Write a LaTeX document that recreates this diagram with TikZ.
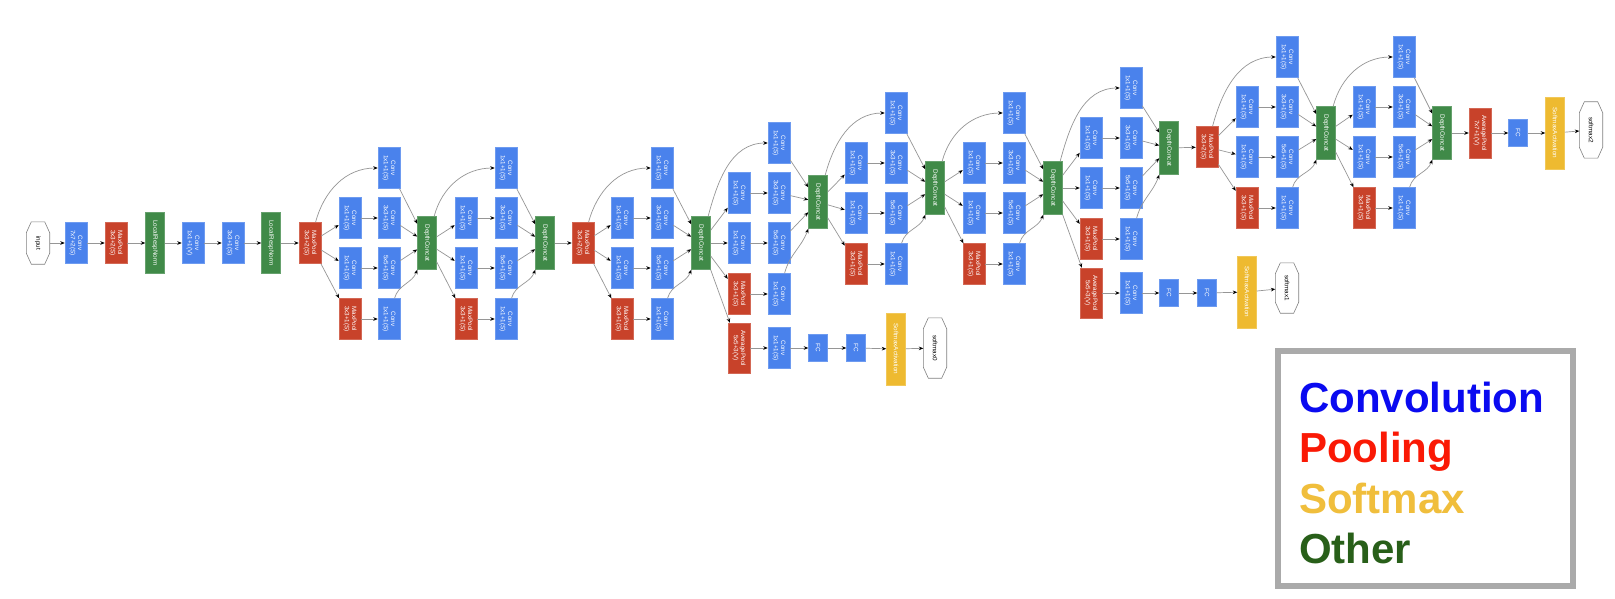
\documentclass[tikz,border=0pt]{standalone}
\usepackage{fontspec}
\setmainfont{Liberation Sans}
\usepackage{graphicx}
\usetikzlibrary{arrows.meta,calc}
\definecolor{convblue}{RGB}{74,130,236}
\definecolor{poolred}{RGB}{200,66,42}
\definecolor{catgreen}{RGB}{64,138,72}
\definecolor{softyel}{RGB}{238,186,48}
\definecolor{edgegray}{RGB}{150,150,150}
\definecolor{legblue}{RGB}{10,10,240}
\definecolor{legred}{RGB}{250,25,5}
\definecolor{legyel}{RGB}{240,190,60}
\definecolor{leggreen}{RGB}{40,95,25}
\definecolor{leggray}{RGB}{170,170,170}
\newcommand\nfont{\fontsize{6.3}{7.2}\selectfont}
\newcommand\lab[2]{\rotatebox{-90}{\begin{tabular}{@{}c@{}}#1\\#2\end{tabular}}}
\newcommand\labo[1]{\rotatebox{-90}{#1}}
\newcommand\octo[1]{\draw[octline] ($(#1.north west)+(5,0)$) -- ($(#1.north east)+(-5,0)$) -- ($(#1.north east)+(0,-11)$) -- ($(#1.south east)+(0,11)$) -- ($(#1.south east)+(-5,0)$) -- ($(#1.south west)+(5,0)$) -- ($(#1.south west)+(0,11)$) -- ($(#1.north west)+(0,-11)$) -- cycle;}
% #1 prefix, #2 input node, #3 x col1, #4 x col2, #5 x concat, #6 y top, #7 y concat
\newcommand\incep[7]{%
 \node[conv] (#1t) at (#4,-#6) {\lab{Conv}{1x1+1(S)}};
 \node[conv] (#1a) at (#3,-#6-50) {\lab{Conv}{1x1+1(S)}};
 \node[conv] (#1b) at (#3,-#6-100) {\lab{Conv}{1x1+1(S)}};
 \node[pool] (#1p) at (#3,-#6-151) {\lab{MaxPool}{3x3+1(S)}};
 \node[conv] (#1c) at (#4,-#6-50) {\lab{Conv}{3x3+1(S)}};
 \node[conv] (#1d) at (#4,-#6-100) {\lab{Conv}{5x5+1(S)}};
 \node[conv] (#1e) at (#4,-#6-151) {\lab{Conv}{1x1+1(S)}};
 \node[concat] (#1x) at (#5,-#7) {\labo{DepthConcat}};
 \draw[conn] (#2) to[out=75,in=180] (#1t);
 \draw[conn] (#2) -- (#1a);
 \draw[conn] (#2) -- (#1b);
 \draw[conn] (#2) -- (#1p);
 \draw[conn] (#1a) -- (#1c);
 \draw[conn] (#1b) -- (#1d);
 \draw[conn] (#1p) -- (#1e);
 \draw[conn] (#1t) -- (#1x);
 \draw[conn] (#1c) -- (#1x);
 \draw[conn] (#1d) -- (#1x);
 \draw[conn] (#1e) to[out=75,in=-110] (#1x);
}
\begin{document}
\begin{tikzpicture}[x=1pt,y=1pt,
 box/.style={rectangle, inner sep=0pt, text=white, font=\nfont, line width=0.5pt},
 conv/.style={box, fill=convblue, draw=convblue!80!white, minimum width=22pt, minimum height=41pt},
 pool/.style={box, fill=poolred, draw=poolred!80!white, minimum width=22pt, minimum height=41pt},
 apool/.style={pool, minimum height=50pt},
 concat/.style={box, fill=catgreen, draw=catgreen!80!white, minimum width=19pt, minimum height=53pt},
 lrn/.style={concat, minimum height=61pt},
 fcbox/.style={box, fill=convblue, draw=convblue!80!white, minimum width=19pt, minimum height=27pt},
 soft/.style={box, fill=softyel, draw=softyel!80!white, minimum width=19pt, minimum height=72pt},
 octo/.style={rectangle, inner sep=0pt, minimum width=23pt, minimum height=56pt, font=\nfont, text=black},
 octline/.style={draw=gray, line width=0.6pt},
 conn/.style={draw=edgegray, line width=0.7pt, -{Stealth[length=4.5pt,width=3.6pt,color=black]}},
 legtext/.style={anchor=base west, font=\fontsize{42}{50}\selectfont\bfseries, inner sep=0pt}
]
\fill[white] (0,0) rectangle (1615,-599);
\useasboundingbox (0,0) rectangle (1615,-599);
% stem
\node[octo, minimum height=42pt] (input) at (38,-243) {\labo{input}};
\octo{input}
\node[conv] (c1) at (76,-243) {\lab{Conv}{7x7+2(S)}};
\node[pool] (p1) at (116,-243) {\lab{MaxPool}{3x3+2(S)}};
\node[lrn] (n1) at (155,-243) {\labo{LocalRespNorm}};
\node[conv] (c2) at (193,-243) {\lab{Conv}{1x1+1(V)}};
\node[conv] (c3) at (233,-243) {\lab{Conv}{3x3+1(S)}};
\node[lrn] (n2) at (271,-243) {\labo{LocalRespNorm}};
\node[pool] (p2) at (310,-243) {\lab{MaxPool}{3x3+2(S)}};
\draw[conn] (input) -- (c1);
\draw[conn] (c1) -- (p1);
\draw[conn] (p1) -- (n1);
\draw[conn] (n1) -- (c2);
\draw[conn] (c2) -- (c3);
\draw[conn] (c3) -- (n2);
\draw[conn] (n2) -- (p2);
% inception 3
\incep{A}{p2}{350}{389}{427}{168}{243}
\incep{B}{Ax}{466}{506}{545}{168}{243}
\node[pool] (p3) at (583,-243) {\lab{MaxPool}{3x3+2(S)}};
\draw[conn] (Bx) -- (p3);
% inception 4
\incep{C}{p3}{622}{662}{701}{168}{243}
\incep{D}{Cx}{739}{779}{818}{143}{202}
\node[apool] (Davg) at (739,-348) {\lab{AveragePool}{5x5+3(V)}};
\node[conv] (Dconv) at (779,-348) {\lab{Conv}{1x1+1(S)}};
\node[fcbox] (Dfc1) at (818,-348) {\labo{FC}};
\node[fcbox] (Dfc2) at (856,-348) {\labo{FC}};
\node[soft] (Dsm) at (896,-349) {\labo{SoftmaxActivation}};
\node[octo, minimum height=60pt] (sm0) at (935,-348) {\labo{softmax0}};
\octo{sm0}
\draw[conn] (Cx) -- (Davg);
\draw[conn] (Davg) -- (Dconv);
\draw[conn] (Dconv) -- (Dfc1);
\draw[conn] (Dfc1) -- (Dfc2);
\draw[conn] (Dfc2) -- (Dsm);
\draw[conn] (Dsm) -- (sm0);
\incep{E}{Dx}{856}{896}{935}{113}{188}
\incep{F}{Ex}{974}{1014}{1053}{113}{188}
\incep{G}{Fx}{1091}{1131}{1169}{88}{148}
\node[apool] (Gavg) at (1091,-293) {\lab{AveragePool}{5x5+3(V)}};
\node[conv] (Gconv) at (1131,-293) {\lab{Conv}{1x1+1(S)}};
\node[fcbox] (Gfc1) at (1169,-293) {\labo{FC}};
\node[fcbox] (Gfc2) at (1207,-293) {\labo{FC}};
\node[soft] (Gsm) at (1247,-292) {\labo{SoftmaxActivation}};
\node[octo, minimum height=50pt] (sm1) at (1287,-288) {\labo{softmax1}};
\octo{sm1}
\draw[conn] (Fx) -- (Gavg);
\draw[conn] (Gavg) -- (Gconv);
\draw[conn] (Gconv) -- (Gfc1);
\draw[conn] (Gfc1) -- (Gfc2);
\draw[conn] (Gfc2) -- (Gsm);
\draw[conn] (Gsm) -- (sm1);
\node[pool] (p4) at (1207,-147) {\lab{MaxPool}{3x3+2(S)}};
\draw[conn] (Gx) -- (p4);
% inception 5
\incep{H}{p4}{1247}{1287}{1326}{57}{133}
\incep{I}{Hx}{1364}{1404}{1442}{57}{133}
\node[apool] (avg) at (1480,-133) {\lab{AveragePool}{7x7+1(V)}};
\node[fcbox] (fc) at (1518,-133) {\labo{FC}};
\node[soft] (sm) at (1555,-133) {\labo{SoftmaxActivation}};
\node[octo] (sm2) at (1591,-130) {\labo{softmax2}};
\octo{sm2}
\draw[conn] (Ix) -- (avg);
\draw[conn] (avg) -- (fc);
\draw[conn] (fc) -- (sm);
\draw[conn] (sm) -- (sm2);
% legend
\node[draw=leggray, line width=6pt, fill=white, minimum width=295pt, minimum height=235pt, inner sep=0pt] (legend) at (1425.5,-468.5) {};
\node[legtext, text=legblue] (l1) at (1299,-412) {Convolution};
\node[legtext, text=legred] (l2) at (1299,-462) {Pooling};
\node[legtext, text=legyel] (l3) at (1299,-513) {Softmax};
\node[legtext, text=leggreen] (l4) at (1299,-563) {Other};
\end{tikzpicture}
\end{document}
